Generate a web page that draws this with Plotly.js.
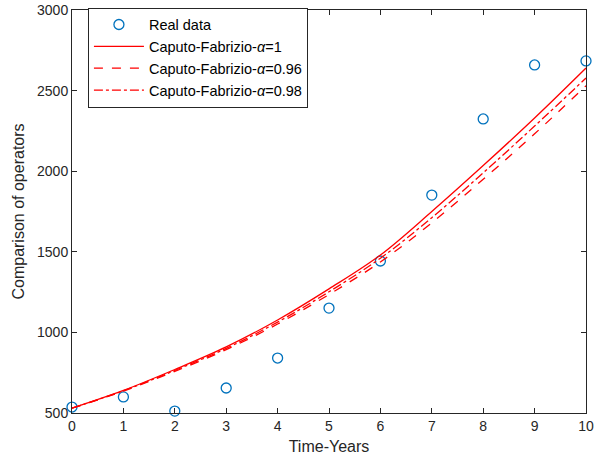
<!DOCTYPE html>
<html>
<head>
<meta charset="utf-8">
<script src="https://cdn.plot.ly/plotly-3.0.1.min.js"></script>
<style>html,body{margin:0;padding:0;background:#fff;}#chart{width:598px;height:469px;}</style>
</head>
<body>
<div id="chart"></div>
<script>
const years = [0, 1, 2, 3, 4, 5, 6, 7, 8, 9, 10];
const realData = [537, 600, 512, 655, 841, 1151, 1443, 1852, 2324, 2659, 2684];
const cfAlpha1 = [530, 640, 770, 910, 1077, 1270, 1480, 1750, 2035, 2330, 2640];
const cfAlpha096 = [530, 636, 758, 893, 1052, 1235, 1437, 1680, 1950, 2232, 2530];
const cfAlpha098 = [530, 638, 764, 901, 1064, 1252, 1460, 1712, 1990, 2280, 2578];
const xTicks = [0, 1, 2, 3, 4, 5, 6, 7, 8, 9, 10];
const yTicks = [500, 1000, 1500, 2000, 2500, 3000];

const font = "Liberation Sans, Arial, Helvetica, sans-serif";
const red = "#ff0000";

const traces = [
  {x: years, y: realData, type: "scatter", mode: "markers", name: "Real data",
   cliponaxis: false,
   marker: {symbol: "circle-open", size: 10, color: "#0072bd", line: {width: 1.3, color: "#0072bd"}}},
  {x: years, y: cfAlpha1, type: "scatter", mode: "lines", name: "Caputo-Fabrizio-<i>α</i>=1",
   line: {color: red, width: 1.3, shape: "spline"}},
  {x: years, y: cfAlpha096, type: "scatter", mode: "lines", name: "Caputo-Fabrizio-<i>α</i>=0.96",
   line: {color: red, width: 1.3, dash: "dash", shape: "spline"}},
  {x: years, y: cfAlpha098, type: "scatter", mode: "lines", name: "Caputo-Fabrizio-<i>α</i>=0.98",
   line: {color: red, width: 1.3, dash: "dashdot", shape: "spline"}}
];

const axisCommon = {
  showgrid: false, zeroline: false, showline: true, mirror: "ticks",
  linecolor: "#262626", linewidth: 1, ticks: "inside", ticklen: 5, tickcolor: "#262626",
  tickfont: {family: font, size: 14, color: "#262626"}
};

const layout = {
  width: 598, height: 469,
  margin: {l: 72, r: 12, t: 10, b: 56, autoexpand: false},
  paper_bgcolor: "#fff", plot_bgcolor: "#fff",
  font: {family: font, size: 14, color: "#262626"},
  showlegend: true,
  legend: {
    x: 0.031, y: 1.006, xanchor: "left", yanchor: "top",
    bgcolor: "#fff", bordercolor: "#262626", borderwidth: 1,
    font: {family: font, size: 14.5, color: "#000"},
    itemwidth: 50, tracegroupgap: 0
  },
  xaxis: Object.assign({}, axisCommon, {
    range: [0, 10], tickvals: xTicks, ticktext: xTicks.map(String),
    title: {text: "Time-Years", font: {family: font, size: 16, color: "#262626"}, standoff: 8}
  }),
  yaxis: Object.assign({}, axisCommon, {
    range: [500, 3000], tickvals: yTicks, ticktext: yTicks.map(String),
    title: {text: "Comparison of operators", font: {family: font, size: 16, color: "#262626"}, standoff: 8}
  })
};

Plotly.newPlot("chart", traces, layout, {displayModeBar: false, staticPlot: true});
</script>
</body>
</html>
